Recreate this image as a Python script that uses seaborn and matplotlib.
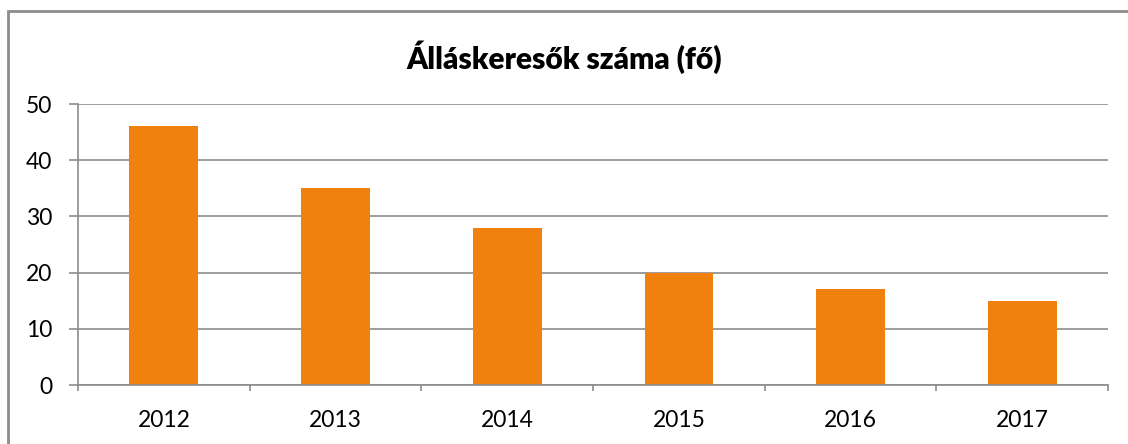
import matplotlib
matplotlib.use("Agg")
import matplotlib.pyplot as plt
import seaborn as sns
import pandas as pd
from matplotlib.patches import Rectangle

years = ["2012", "2013", "2014", "2015", "2016", "2017"]
values = [46, 35, 28, 20, 17, 15]
title = "Álláskeresők száma (fő)"
yticks = [0, 10, 20, 30, 40, 50]

sns.set_theme(style="white")
plt.rcParams['font.family'] = ['Lato', 'DejaVu Sans']

df = pd.DataFrame({"year": years, "value": values})

fig = plt.figure(figsize=(11.28, 4.44), dpi=100)
ax = fig.add_axes([78/1128, 1-385/444, (1108-78)/1128, (385-104)/444])

sns.barplot(data=df, x="year", y="value", color="#F0810F", saturation=1,
            width=0.4, ax=ax, zorder=3, edgecolor="none")

ax.set_ylim(0, 50)
ax.set_xlim(-0.5, 5.5)
ax.set_yticks(yticks)
ax.yaxis.grid(True, color="#8C8C8C", linewidth=1.2, zorder=0)
ax.xaxis.grid(False)
for s in ["top", "right"]:
    ax.spines[s].set_visible(False)
ax.spines["left"].set_color("#8C8C8C")
ax.spines["left"].set_linewidth(1.2)
ax.spines["bottom"].set_color("#8C8C8C")
ax.spines["bottom"].set_linewidth(1.2)
ax.spines["bottom"].set_zorder(4)

ax.tick_params(axis="y", which="major", left=True, length=6.5, width=1.2,
               color="#8C8C8C", labelsize=16.5, labelcolor="black", pad=12)
ax.tick_params(axis="x", which="major", bottom=False, labelsize=16.5,
               labelcolor="black", pad=12)
# category boundary ticks
ax.set_xticks([i - 0.5 for i in range(7)], minor=True)
ax.tick_params(axis="x", which="minor", bottom=True, length=4.5, width=1.2,
               color="#8C8C8C", direction="out")
ax.set_xlabel("")
ax.set_ylabel("")

fig.text(0.5, 1-57/444, title, ha="center", va="center",
         fontsize=21.5, fontweight="heavy", color="black")

fig.patches.append(Rectangle((8/1128, -0.05), 1.1, 1-11/444 + 0.05,
                             transform=fig.transFigure, fill=False,
                             edgecolor="#8C8C8C", linewidth=2))

fig.savefig("out.png", dpi=100, facecolor="white")
